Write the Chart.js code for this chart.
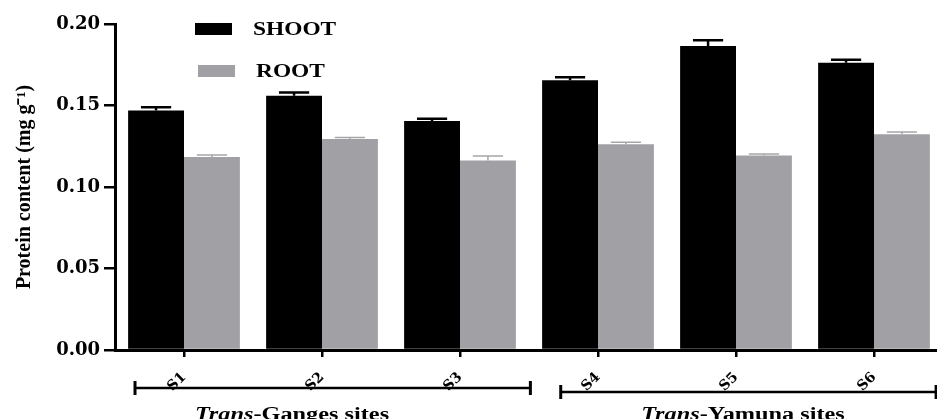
<!DOCTYPE html>
<html>
<head>
<meta charset="utf-8">
<script src="https://cdn.jsdelivr.net/npm/chart.js@4.4.1/dist/chart.umd.min.js"></script>
<style>
  html, body { margin: 0; padding: 0; background: #fff; overflow: hidden; }
  #wrap { width: 943px; height: 419px; position: relative; }
</style>
</head>
<body>
<div id="wrap"><canvas id="pChart"></canvas></div>
<script>
const sites = ['S1', 'S2', 'S3', 'S4', 'S5', 'S6'];
const shootValues = [0.147, 0.156, 0.1405, 0.1655, 0.1865, 0.1763];
const shootErrors = [0.002, 0.002, 0.0013, 0.0019, 0.0035, 0.0018];
const rootValues = [0.1184, 0.1294, 0.1163, 0.1262, 0.1194, 0.1323];
const rootErrors = [0.0012, 0.001, 0.0027, 0.0012, 0.0008, 0.0014];
const yTicks = [0, 0.05, 0.10, 0.15, 0.20];
const groupNames = ['Ganges', 'Yamuna'];
const groupFirst = [0, 3];
const groupLast = [2, 5];

document.addEventListener('DOMContentLoaded', () => {
    const canvas = document.getElementById('pChart');
    const ctx = canvas.getContext('2d');

    const serif = '"Liberation Serif", "Times New Roman", serif';
    const wideSerif = '"DejaVu Serif", serif';

    // error bars, only the upper half is visible like in the original
    const errorBars = {
        id: 'errorBars',
        afterDatasetsDraw: (chart) => {
            const c = chart.ctx;
            const yScale = chart.scales.y;
            chart.data.datasets.forEach((ds, i) => {
                const meta = chart.getDatasetMeta(i);
                c.save();
                c.strokeStyle = ds.errColor;
                c.lineWidth = ds.errWidth;
                meta.data.forEach((bar, j) => {
                    const top = yScale.getPixelForValue(ds.data[j] + ds.errors[j]);
                    const half = bar.width * 0.27;
                    c.beginPath();
                    c.moveTo(bar.x, bar.y);
                    c.lineTo(bar.x, top);
                    c.moveTo(bar.x - half, top);
                    c.lineTo(bar.x + half, top);
                    c.stroke();
                });
                c.restore();
            });
        }
    };

    const legendBoxes = {
        id: 'legendBoxes',
        afterDraw: (chart) => {
            const c = chart.ctx;
            const area = chart.chartArea;
            c.save();
            chart.data.datasets.forEach((ds, i) => {
                const bx = area.left + 80 + i * 3;
                const by = area.top - 1 + i * 42;
                c.fillStyle = ds.backgroundColor;
                c.fillRect(bx, by, 37, 12);
                c.save();
                c.translate(bx + 58, by + 7);
                c.scale(1.3, 1);
                c.fillStyle = '#000';
                c.font = 'bold 18px ' + serif;
                c.textBaseline = 'middle';
                c.textAlign = 'left';
                c.fillText(ds.label, 0, 0);
                c.restore();
            });
            c.restore();
        }
    };

    const siteGroups = {
        id: 'siteGroups',
        afterDraw: (chart) => {
            const c = chart.ctx;
            const x = chart.scales.x;
            const step = x.getPixelForValue(1) - x.getPixelForValue(0);
            const startShift = [-0.355, -0.27];
            const endShift = [0.51, 0.45];
            const lineY = [388, 392];
            const textShift = [-30, 7];
            c.save();
            c.strokeStyle = '#000';
            groupNames.forEach((name, g) => {
                const x0 = x.getPixelForValue(groupFirst[g]) + startShift[g] * step;
                const x1 = x.getPixelForValue(groupLast[g]) + endShift[g] * step;
                const y = lineY[g];
                c.lineWidth = 2.5;
                c.beginPath();
                c.moveTo(x0, y);
                c.lineTo(x1, y);
                c.stroke();
                c.lineWidth = 3;
                c.beginPath();
                c.moveTo(x0, y - 7);
                c.lineTo(x0, y + 7);
                c.moveTo(x1, y - 7);
                c.lineTo(x1, y + 7);
                c.stroke();

                const mid = (x.getPixelForValue(groupFirst[g]) + x.getPixelForValue(groupLast[g])) / 2 + textShift[g];
                const italicFont = 'bold italic 18px ' + serif;
                const boldFont = 'bold 18px ' + serif;
                const part1 = 'Trans';
                const part2 = '-' + name + ' sites';
                c.font = italicFont;
                const w1 = c.measureText(part1).width;
                c.font = boldFont;
                const w2 = c.measureText(part2).width;
                c.save();
                c.translate(mid, 420);
                c.scale(1.35, 1);
                c.fillStyle = '#000';
                c.textBaseline = 'alphabetic';
                c.textAlign = 'left';
                c.font = italicFont;
                c.fillText(part1, -(w1 + w2) / 2, 0);
                c.font = boldFont;
                c.fillText(part2, -(w1 + w2) / 2 + w1, 0);
                c.restore();
            });
            c.restore();
        }
    };

    new Chart(ctx, {
        type: 'bar',
        data: {
            labels: sites,
            datasets: [{
                label: 'SHOOT',
                data: shootValues,
                errors: shootErrors,
                backgroundColor: '#000000',
                errColor: '#000000',
                errWidth: 2.5,
                categoryPercentage: 0.81,
                barPercentage: 1.0
            }, {
                label: 'ROOT',
                data: rootValues,
                errors: rootErrors,
                backgroundColor: '#a1a1a5',
                errColor: '#a6a6aa',
                errWidth: 1.5,
                categoryPercentage: 0.81,
                barPercentage: 1.0
            }]
        },
        options: {
            responsive: true,
            maintainAspectRatio: false,
            animation: false,
            layout: {
                padding: { top: 24, right: 0, bottom: 0, left: 0 }
            },
            scales: {
                x: {
                    afterFit: (scale) => { scale.height = 69; },
                    grid: {
                        display: true,
                        offset: false,
                        drawOnChartArea: false,
                        drawTicks: true,
                        tickLength: 7,
                        color: '#000',
                        lineWidth: 2.5
                    },
                    border: { display: true, color: '#000', width: 3 },
                    ticks: {
                        color: '#000',
                        minRotation: 45,
                        maxRotation: 45,
                        padding: 12,
                        font: { family: wideSerif, size: 14, weight: 'bold' }
                    }
                },
                y: {
                    min: 0,
                    max: 0.2,
                    afterFit: (scale) => { scale.width = 115; },
                    afterBuildTicks: (scale) => {
                        scale.ticks = yTicks.map(v => ({ value: v }));
                    },
                    grid: {
                        display: true,
                        drawOnChartArea: false,
                        drawTicks: true,
                        tickLength: 11,
                        color: '#000',
                        lineWidth: 2.5
                    },
                    border: { display: true, color: '#000', width: 3 },
                    ticks: {
                        color: '#000',
                        padding: 4,
                        font: { family: wideSerif, size: 18, weight: 'bold' },
                        callback: function(value) { return Number(value).toFixed(2); }
                    },
                    title: {
                        display: true,
                        text: 'Protein content (mg g\u207B\u00B9)',
                        color: '#000',
                        padding: { top: 13, bottom: 0 },
                        font: { family: serif, size: 20, weight: 'bold' }
                    }
                }
            },
            plugins: {
                legend: { display: false },
                tooltip: { enabled: false }
            }
        },
        plugins: [errorBars, legendBoxes, siteGroups]
    });
});
</script>
</body>
</html>
